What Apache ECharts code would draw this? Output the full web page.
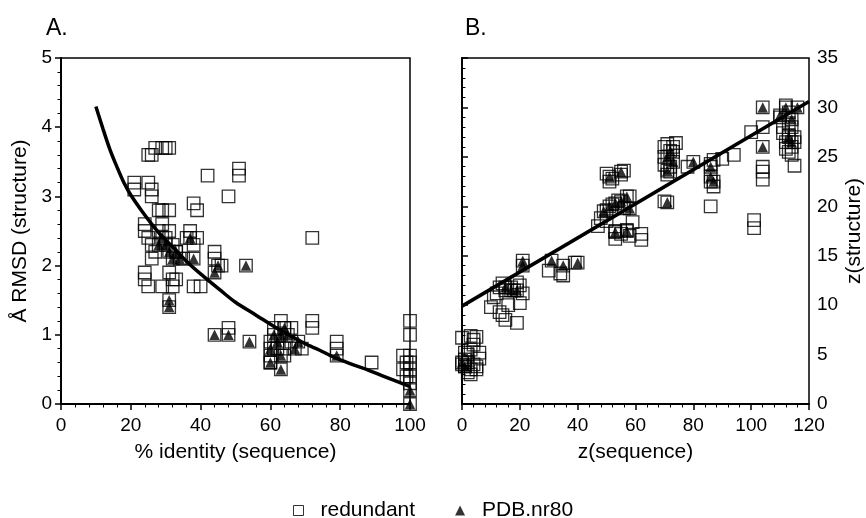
<!DOCTYPE html>
<html>
<head>
<meta charset="utf-8">
<script src="https://cdn.jsdelivr.net/npm/echarts@6/dist/echarts.min.js"></script>
<style>html,body{margin:0;padding:0;background:#fff}#c{width:866px;height:518px}</style>
</head>
<body>
<div id="c"></div>
<script>
// Panel A: % identity (sequence) vs Å RMSD (structure)
const aRedundant = [
  [21,3.2],[21,3.1],[25,3.2],[26,3.1],[26,3.0],[25,3.6],[26,3.6],[27,3.7],[29,3.7],[30,3.7],[31,3.7],
  [28,2.8],[29,2.8],[31,2.8],[38,2.9],[39,2.8],[42,3.3],[48,3.0],[51,3.4],[51,3.3],[72,2.4],
  [24,2.6],[24,2.5],[25,2.4],[26,2.3],[27,2.2],[28,2.5],[29,2.6],[30,2.4],[31,2.5],[32,2.3],[33,2.2],[26,2.1],
  [36,2.4],[37,2.5],[39,2.4],[38,2.3],[35,2.1],
  [24,1.9],[24,1.8],[25,1.7],[29,1.7],[31,1.9],[32,1.8],[33,1.8],[32,1.7],[38,1.7],[40,1.7],
  [44,2.2],[44,2.1],[46,2.0],[48,1.1],
  [60,0.9],[60,0.7],[61,1.1],[63,1.2],[64,1.1],[62,0.8],[64,0.8],[64,0.7],[66,1.1],[66,0.9],[69,0.8],[60,0.6],[61,0.8],
  [72,1.2],[72,1.1],[79,0.9],[79,0.8],[89,0.6],
  [100,1.2],[100,1.0],[98,0.7],[100,0.7],[99,0.6],[98,0.5],[100,0.6],[100,0.5],[99,0.4],[100,0.4],[100,0.3]
];
const aNr80 = [
  [28,2.3],[29,2.4],[30,2.3],[31,2.2],[32,2.1],[33,2.2],[34,2.1],[37,2.4],[38,2.1],[31,1.5],[31,1.4],
  [44,1.9],[45,2.0],[44,1.0],[48,1.0],[53,2.0],[54,0.9],[60,0.6],[60,0.8],[61,1.0],[62,0.9],[63,1.0],
  [64,1.1],[63,0.5],[63,0.7],[65,1.0],[67,0.8],[68,0.9],[79,0.7],[100,0.2],[100,0.0]
];
const aCurve = [
  [10,4.3],[12,3.98],[14,3.68],[16,3.43],[18,3.2],[20,3.02],[23,2.8],[26,2.6],[29,2.42],[32,2.27],
  [36,2.06],[40,1.88],[46,1.63],[50,1.47],[56,1.28],[62,1.09],[66,0.98],[70,0.87],[74,0.78],[78,0.68],
  [83,0.58],[88,0.49],[94,0.37],[100,0.25]
];
// Panel B: z(sequence) vs z(structure)
const bRedundant = [
  [0,4.0],[1,4.5],[2,5.0],[3,3.5],[4,4.0],[5,3.8],[2,3.2],[1,3.8],[3,5.5],[4,6.5],[5,6.8],[0,6.7],[3,6.9],
  [6,4.6],[6,5.2],[5,3.5],[2,4.2],[3,3.0],[4,6.0],[1,5.2],
  [10,9.8],[11,10.8],[12,11.2],[13,11.8],[14,12.2],[15,11.5],[14,9.0],[15,8.5],[16,10.0],[18,11.5],[20,12.0],
  [21,11.2],[19,8.2],[20,10.2],[13,9.3],[17,11.8],[19,12.3],
  [30,13.5],[34,13.2],[35,13.0],[39,14.3],
  [47,18.0],[48,18.8],[50,19.6],[52,20.2],[54,20.6],[56,19.8],[58,21.0],[53,17.5],[53,16.7],[57,17.6],
  [58,17.0],[62,17.2],[62,16.6],[55,17.2],[50,18.5],[59,18.4],
  [50,23.3],[51,22.5],[52,22.8],[55,23.2],[56,23.6],
  [70,26.0],[70,25.0],[70,24.2],[71,26.3],[72,23.5],[73,25.5],[74,26.4],[72,24.0],[73,26.0],[71,23.2],
  [70,20.5],[78,24.0],
  [86,24.3],[87,24.7],[87,22.0],[86,22.5],[86,20.0],[90,24.8],[94,25.2],
  [101,18.6],[101,17.8],[104,24.0],[104,23.5],[104,22.7],[100,27.5],[104,28.0],
  [110,29.0],[111,28.0],[112,30.2],[113,29.5],[113,27.2],[114,26.0],[115,27.0],[113,25.5],[114,25.2],
  [112,26.5],[115,24.1],[113,28.4],[111,27.4],[112,25.8],[115,26.5],[114,28.0]
];
const bNr80 = [
  [0,4.2],[1,3.8],[21,14.5],[21,14.0],[15,11.8],[17,11.5],[19,11.5],[31,14.5],[35,14.0],[40,14.3],
  [49,19.5],[51,20.0],[53,20.3],[55,20.5],[57,21.0],[58,19.8],[53,17.4],[57,17.5],[51,23.0],[55,23.5],
  [71,25.0],[72,25.6],[73,24.5],[71,23.6],[71,20.4],[80,24.5],[86,24.0],[87,22.5],[86,23.0],
  [104,30.0],[104,26.0],[110,29.2],[112,30.0],[114,28.8],[116,30.0],[113,27.0],[114,26.5]
];
const bLine = [[0,9.9],[120,30.6]];

const FONT = "'Liberation Sans', Arial, Helvetica, sans-serif";
const axisCommon = {
  axisLine: {show: true, lineStyle: {color: '#000', width: 2}},
  axisTick: {show: true, length: 6, inside: false, lineStyle: {color: '#000', width: 1.5}},
  minorTick: {show: true, splitNumber: 5, length: 3.5, lineStyle: {color: '#000', width: 1}},
  splitLine: {show: false},
  axisLabel: {color: '#000', fontSize: 19, fontFamily: FONT},
  nameTextStyle: {color: '#000', fontSize: 21, fontFamily: FONT},
  nameLocation: 'middle'
};

const chart = echarts.init(document.getElementById('c'), null, {renderer: 'canvas'});
const sq = {symbol: 'rect', symbolSize: 12.5, itemStyle: {color: 'rgba(255,255,255,0)', borderColor: '#000', borderWidth: 1.3}};
const tri = {symbol: 'triangle', symbolSize: 10.5, itemStyle: {color: '#000'}};

chart.setOption({
  animation: false,
  backgroundColor: '#fff',
  title: [
    {text: 'A.', left: 41, top: 12, textStyle: {fontSize: 23, fontWeight: 'normal', color: '#000', fontFamily: FONT}},
    {text: 'B.', left: 460, top: 12, textStyle: {fontSize: 23, fontWeight: 'normal', color: '#000', fontFamily: FONT}}
  ],
  grid: [
    {left: 61, top: 58, width: 349, height: 346, show: true, borderColor: '#000', borderWidth: 1.5, backgroundColor: 'transparent'},
    {left: 462, top: 58, width: 348, height: 346, show: true, borderColor: '#000', borderWidth: 1.5, backgroundColor: 'transparent'}
  ],
  xAxis: [
    Object.assign({}, axisCommon, {gridIndex: 0, type: 'value', min: 0, max: 100, interval: 20,
      name: '% identity (sequence)', nameGap: 38, axisLabel: Object.assign({}, axisCommon.axisLabel, {margin: 12})}),
    Object.assign({}, axisCommon, {gridIndex: 1, type: 'value', min: 0, max: 120, interval: 20,
      name: 'z(sequence)', nameGap: 38, axisLabel: Object.assign({}, axisCommon.axisLabel, {margin: 12})})
  ],
  yAxis: [
    Object.assign({}, axisCommon, {gridIndex: 0, type: 'value', min: 0, max: 5, interval: 1,
      name: 'Å RMSD (structure)', nameGap: 30, axisLabel: Object.assign({}, axisCommon.axisLabel, {margin: 9})}),
    Object.assign({}, axisCommon, {gridIndex: 1, type: 'value', min: 0, max: 35, interval: 5, position: 'right',
      name: 'z(structure)', nameGap: 35, nameRotate: 90, axisLabel: Object.assign({}, axisCommon.axisLabel, {margin: 8})})
  ],
  legend: {
    left: 288, top: 495, itemWidth: 10, itemHeight: 10, itemGap: 40,
    textStyle: {fontSize: 21, color: '#000', fontFamily: FONT, padding: [0, 0, 0, 12]},
    data: [
      {name: 'redundant', icon: 'rect', itemStyle: {color: '#fff', borderColor: '#000', borderWidth: 1}},
      {name: 'PDB.nr80', icon: 'triangle', itemStyle: {color: '#000'}}
    ]
  },
  series: [
    Object.assign({type: 'scatter', name: 'redundant', xAxisIndex: 0, yAxisIndex: 0, data: aRedundant.concat(aNr80)}, sq),
    Object.assign({type: 'scatter', name: 'redundant', xAxisIndex: 1, yAxisIndex: 1, data: bRedundant.concat(bNr80)}, sq),
    Object.assign({type: 'scatter', name: 'PDB.nr80', xAxisIndex: 0, yAxisIndex: 0, data: aNr80}, tri),
    Object.assign({type: 'scatter', name: 'PDB.nr80', xAxisIndex: 1, yAxisIndex: 1, data: bNr80}, tri),
    {type: 'line', name: 'fitA', xAxisIndex: 0, yAxisIndex: 0, data: aCurve, smooth: 0.3, showSymbol: false,
      lineStyle: {color: '#000', width: 3.5}, z: 5},
    {type: 'line', name: 'fitB', xAxisIndex: 1, yAxisIndex: 1, data: bLine, showSymbol: false,
      lineStyle: {color: '#000', width: 3.5}, z: 5}
  ]
});
</script>
</body>
</html>
